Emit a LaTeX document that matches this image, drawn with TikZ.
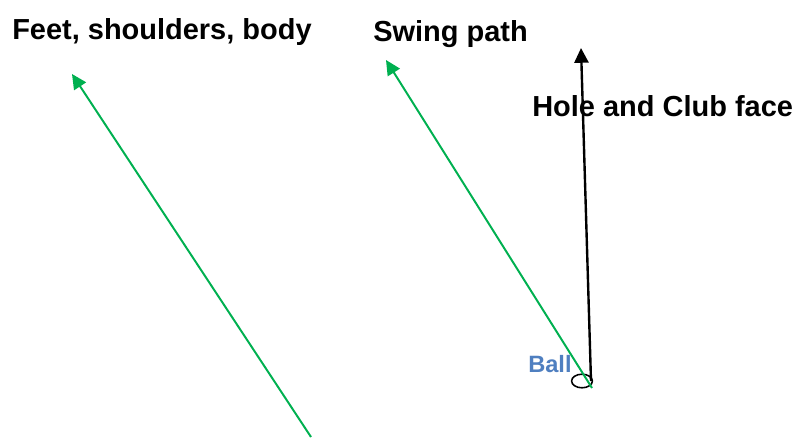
\documentclass[tikz,border=0pt]{standalone}
\usepackage{fontspec}
\setmainfont{Liberation Sans}
\usetikzlibrary{arrows.meta,shapes.geometric}
\definecolor{pathgreen}{HTML}{00B050}
\definecolor{ballblue}{HTML}{4F7FC0}

\begin{document}
\begin{tikzpicture}[x=0.025cm,y=-0.025cm,
    label/.style={anchor=base west,inner sep=0pt,font=\bfseries\fontsize{20.6}{24}\selectfont},
    greenline/.style={draw=pathgreen,line width=1.4pt,-{Triangle[length=10.5pt,width=10pt]}},
    blackline/.style={draw=black,line width=1.7pt,-{Triangle[length=10.5pt,width=10pt]}}]
  \useasboundingbox (0,0) rectangle (796,439);
  % texts
  \node[label] (body) at (12,40) {Feet, shoulders, body};
  \node[label] (swing) at (373,42) {Swing path};
  \node[label] (hole) at (532,117) {Hole and Club face};
  \node[anchor=base west,inner sep=0pt,text=ballblue,font=\bfseries\fontsize{16.8}{20}\selectfont] (balltext) at (528,372) {Ball};
  % ball
  \node[draw,ellipse,line width=1.1pt,minimum width=0.52cm,minimum height=0.34cm,inner sep=0pt] (ball) at (582,381) {};
  % end points
  \coordinate (bodystart) at (311,437);
  \coordinate (bodytip) at (72,74);
  \coordinate (swingstart) at (592,388);
  \coordinate (swingtip) at (386,60);
  \coordinate (holestart) at (591,381);
  \coordinate (holetip) at (581,48);
  % arrows
  \draw[greenline] (bodystart) -- (bodytip);
  \draw[greenline] (swingstart) -- (swingtip);
  \draw[blackline] (holestart) -- (holetip);
\end{tikzpicture}
\end{document}
